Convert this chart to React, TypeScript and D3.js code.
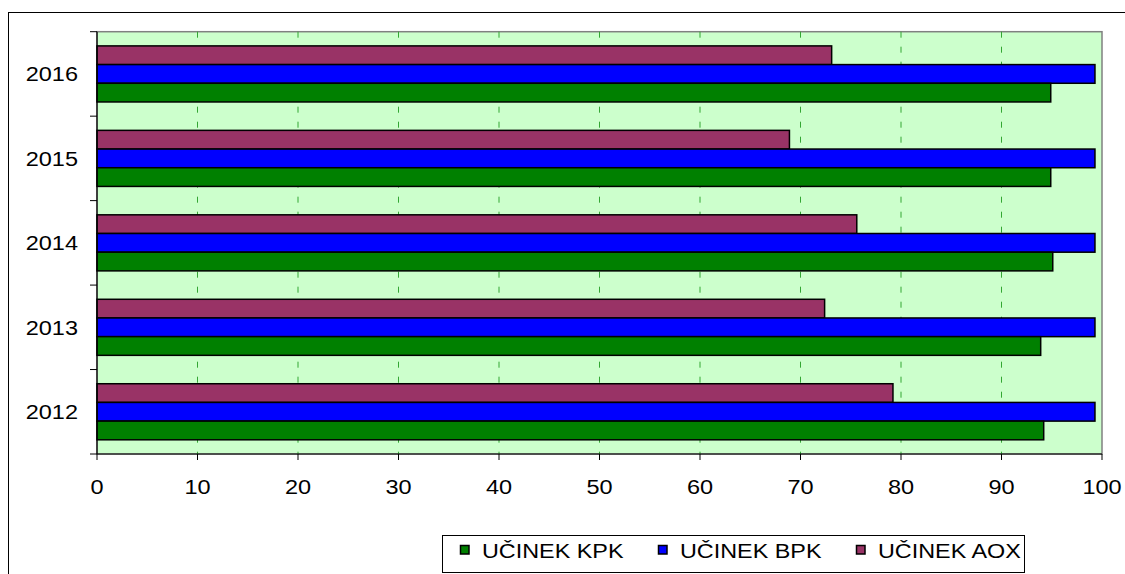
import React from "react";
import * as d3 from "d3";

const years = ["2016", "2015", "2014", "2013", "2012"];
const seriesNames = ["UČINEK AOX", "UČINEK BPK", "UČINEK KPK"];
const seriesColors = ["#993366", "#0000FF", "#008000"];
const aox = [73.1, 68.9, 75.6, 72.4, 79.2];
const bpk = [99.3, 99.3, 99.3, 99.3, 99.3];
const kpk = [94.9, 94.9, 95.1, 93.9, 94.2];
const xTicks = [0, 10, 20, 30, 40, 50, 60, 70, 80, 90, 100];
const legendOrder = ["UČINEK KPK", "UČINEK BPK", "UČINEK AOX"];

const seriesValues = [aox, bpk, kpk];

export default function App() {
  const W = 1125, H = 574;
  const left = 97, right = 1102, top = 31.7, bottom = 454;
  const x = d3.scaleLinear().domain([0, 100]).range([left, right]);
  const y = d3.scaleBand<string>().domain(years).range([top, bottom]).padding(0);
  const sub = d3.scaleBand<string>().domain(seriesNames).range([0, y.bandwidth()]).paddingInner(0).paddingOuter(0.76);
  const font = "Liberation Sans, Arial, sans-serif";
  const sx = 1.12;
  const legendX = [460.5, 658.5, 856.5];

  return (
    <svg width={W} height={H} style={{ position: "absolute", left: 0, top: 0, background: "#fff" }}>
      <rect x={8.5} y={12.5} width={1300} height={800} fill="#fff" stroke="#000" strokeWidth={1} />
      <rect x={left} y={top} width={right - left} height={bottom - top} fill="#CCFFCC" stroke="#808080" strokeWidth={1.5} />
      {xTicks.slice(1, -1).map((t) => (
        <line key={"g" + t} x1={x(t)} x2={x(t)} y1={top} y2={bottom} stroke="#33a633" strokeWidth={1} strokeDasharray="6,9" />
      ))}
      {years.map((yr, i) => (
        <g key={yr}>
          {seriesNames.map((s, j) => (
            <rect
              key={s}
              x={x(0)}
              y={(y(yr) as number) + (sub(s) as number)}
              width={x(seriesValues[j][i]) - x(0)}
              height={sub.bandwidth()}
              fill={seriesColors[j]}
              stroke="#000"
              strokeWidth={1.5}
            />
          ))}
        </g>
      ))}
      <line x1={left} x2={left} y1={top} y2={bottom} stroke="#000" strokeWidth={1.2} />
      <line x1={left} x2={right} y1={bottom} y2={bottom} stroke="#000" strokeWidth={1.2} />
      {years.map((yr) => (
        <line key={"yt" + yr} x1={left - 7} x2={left} y1={y(yr) as number} y2={y(yr) as number} stroke="#000" />
      ))}
      <line x1={left - 7} x2={left} y1={bottom} y2={bottom} stroke="#000" />
      {xTicks.map((t) => (
        <g key={"xt" + t}>
          <line x1={x(t)} x2={x(t)} y1={bottom} y2={bottom + 6} stroke="#000" />
          <text
            transform={`translate(${x(t)},${493.5}) scale(${sx},1)`}
            textAnchor="middle"
            fontFamily={font}
            fontSize={21}
            fill="#000"
          >
            {t}
          </text>
        </g>
      ))}
      {years.map((yr) => (
        <text
          key={"yl" + yr}
          transform={`translate(${78},${(y(yr) as number) + y.bandwidth() / 2 + 7.5}) scale(${sx},1)`}
          textAnchor="end"
          fontFamily={font}
          fontSize={21}
          fill="#000"
        >
          {yr}
        </text>
      ))}
      <rect x={442.5} y={535.5} width={582} height={37} fill="#fff" stroke="#000" strokeWidth={1} />
      {legendOrder.map((name, k) => {
        const j = seriesNames.indexOf(name);
        return (
          <g key={name}>
            <rect x={legendX[k]} y={545.5} width={8.5} height={8.5} fill={seriesColors[j]} stroke="#000" strokeWidth={1.5} />
            <text
              transform={`translate(${legendX[k] + 21.5},${557.5}) scale(1.14,1)`}
              fontFamily={font}
              fontSize={20.5}
              fill="#000"
            >
              {name}
            </text>
          </g>
        );
      })}
    </svg>
  );
}
